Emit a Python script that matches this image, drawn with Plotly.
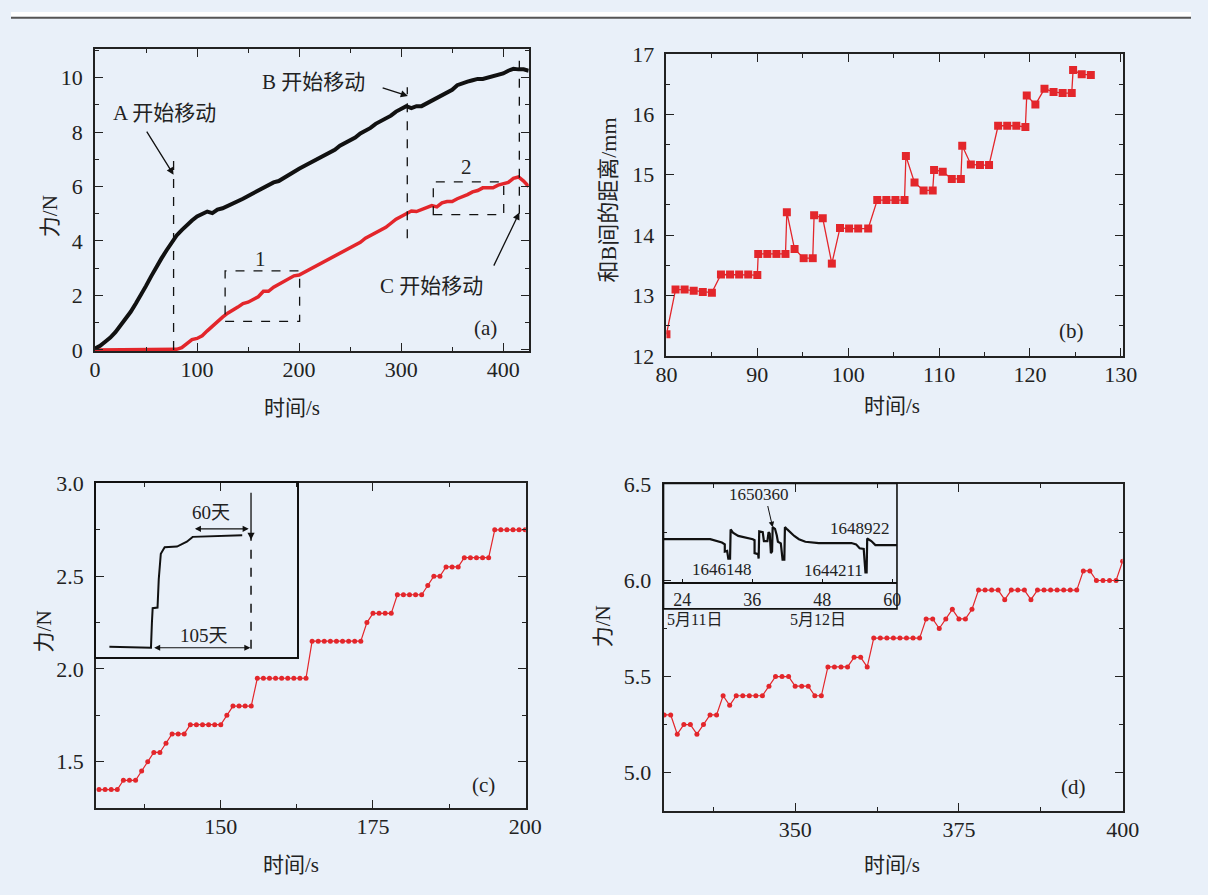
import plotly.graph_objects as go

# ---------------- data ----------------
# (a) force vs time, sampled every 5 s
t_a = [0, 5, 10, 15, 20, 25, 30, 35, 40, 45, 50, 55, 60, 65, 70, 75, 80, 85, 90, 95,
       100, 105, 110, 115, 120, 125, 130, 135, 140, 145, 150, 155, 160, 165, 170, 175, 180, 185, 190, 195,
       200, 205, 210, 215, 220, 225, 230, 235, 240, 245, 250, 255, 260, 265, 270, 275, 280, 285, 290, 295,
       300, 305, 310, 315, 320, 325, 330, 335, 340, 345, 350, 355, 360, 365, 370, 375, 380, 385, 390, 395,
       400, 405, 410, 415, 420, 425]
force_black = [0.05, 0.15, 0.3, 0.45, 0.65, 0.9, 1.1, 1.4, 1.7, 2.0, 2.35, 2.7, 3.05, 3.35, 3.65, 3.95, 4.2, 4.4, 4.6, 4.75,
               4.9, 5.0, 5.08, 5.02, 5.15, 5.2, 5.28, 5.4, 5.45, 5.55, 5.65, 5.75, 5.85, 5.95, 6.05, 6.15, 6.2, 6.32, 6.45, 6.55,
               6.65, 6.75, 6.85, 6.95, 7.02, 7.15, 7.25, 7.35, 7.5, 7.6, 7.7, 7.8, 7.95, 8.05, 8.15, 8.3, 8.4, 8.5, 8.6, 8.75,
               8.85, 8.95, 8.88, 8.95, 8.95, 9.05, 9.15, 9.28, 9.35, 9.45, 9.55, 9.72, 9.8, 9.85, 9.9, 9.95, 9.95, 10.0, 10.05, 10.1,
               10.15, 10.25, 10.32, 10.3, 10.3, 10.25]
force_red = [0.0, 0.0, 0.0, 0.0, 0.0, 0.0, 0.0, 0.0, 0.0, 0.0, 0.0, 0.0, 0.0, 0.0, 0.0, 0.0, 0.02, 0.08, 0.22, 0.38,
             0.42, 0.52, 0.7, 0.88, 1.02, 1.2, 1.35, 1.45, 1.57, 1.7, 1.75, 1.85, 1.95, 2.15, 2.15, 2.3, 2.4, 2.5, 2.6, 2.72,
             2.75, 2.85, 2.95, 3.05, 3.15, 3.22, 3.35, 3.45, 3.55, 3.65, 3.75, 3.85, 3.95, 4.1, 4.2, 4.3, 4.4, 4.5, 4.65, 4.8,
             4.9, 5.0, 5.1, 5.08, 5.15, 5.2, 5.3, 5.25, 5.4, 5.45, 5.45, 5.55, 5.62, 5.7, 5.8, 5.85, 5.95, 5.95, 5.95, 6.05,
             6.1, 6.15, 6.3, 6.35, 6.2, 6.0]
event_A, event_B, event_C = 77, 306, 415.8
box1 = (127.5, 200.5, 1.05, 2.9)
box2 = (331.5, 400.5, 4.97, 6.17)

# (b) distance vs time
t_b = [80.0, 81.0, 82.0, 83.0, 84.0, 85.0, 86.0, 87.0, 88.0, 89.0, 90.0, 90.1, 91.1, 92.1, 93.1, 93.25,
       94.1, 95.1, 96.1, 96.25, 97.2, 98.2, 99.1, 100.1, 101.1, 102.2, 103.2, 104.2, 105.2, 106.2, 106.35,
       107.3, 108.3, 109.3, 109.45, 110.4, 111.4, 112.4, 112.55, 113.5, 114.5, 115.5, 116.5, 117.5, 118.5,
       119.5, 119.65, 120.6, 121.6, 122.6, 123.6, 124.6, 124.75, 125.7, 126.7]
dist_b = [12.36, 13.10, 13.10, 13.08, 13.06, 13.05, 13.35, 13.35, 13.35, 13.35, 13.34, 13.69, 13.69, 13.69, 13.69, 14.38,
          13.77, 13.62, 13.62, 14.33, 14.28, 13.53, 14.12, 14.11, 14.11, 14.11, 14.58, 14.58, 14.58, 14.58, 15.31,
          14.87, 14.74, 14.74, 15.08, 15.05, 14.93, 14.93, 15.48, 15.17, 15.16, 15.16, 15.81, 15.81, 15.81,
          15.79, 16.31, 16.16, 16.42, 16.37, 16.35, 16.35, 16.73, 16.66, 16.65]

# (c) zoom of box 1
t_c = list(range(130, 201))
force_c = [1.35, 1.35, 1.35, 1.35, 1.40, 1.40, 1.40, 1.45, 1.50, 1.55, 1.55, 1.60, 1.65, 1.65, 1.65,
           1.70, 1.70, 1.70, 1.70, 1.70, 1.70, 1.75, 1.80, 1.80, 1.80, 1.80,
           1.95, 1.95, 1.95, 1.95, 1.95, 1.95, 1.95, 1.95, 1.95,
           2.15, 2.15, 2.15, 2.15, 2.15, 2.15, 2.15, 2.15, 2.15,
           2.25, 2.30, 2.30, 2.30, 2.30, 2.40, 2.40, 2.40, 2.40, 2.40, 2.45, 2.50, 2.50,
           2.55, 2.55, 2.55, 2.60, 2.60, 2.60, 2.60, 2.60, 2.75, 2.75, 2.75, 2.75, 2.75, 2.75]

# (d) zoom of box 2
t_d = list(range(330, 401))
force_d = [5.30, 5.30, 5.20, 5.25, 5.25, 5.20, 5.25, 5.30, 5.30, 5.40,
           5.35, 5.40, 5.40, 5.40, 5.40, 5.40, 5.45, 5.50, 5.50, 5.50,
           5.45, 5.45, 5.45, 5.40, 5.40, 5.55, 5.55, 5.55, 5.55, 5.60,
           5.60, 5.55, 5.70, 5.70, 5.70, 5.70, 5.70, 5.70, 5.70, 5.70,
           5.80, 5.80, 5.75, 5.80, 5.85, 5.80, 5.80, 5.85, 5.95, 5.95,
           5.95, 5.95, 5.90, 5.95, 5.95, 5.95, 5.90, 5.95, 5.95, 5.95,
           5.95, 5.95, 5.95, 5.95, 6.05, 6.05, 6.00, 6.00, 6.00, 6.00,
           6.10]

# inset of (c): field record (days relative to event, relative level)
inset_c_days = [-151.2, -127.6, -106.8, -105.8, -105.0, -99.8, -98.5, -96.3, -92.2, -79.0, -71.9, -68.5, -62.3, -9.4]
inset_c_level = [6.1, 6.0, 5.6, 20.0, 28.3, 28.7, 45.0, 59.6, 63.3, 63.7, 65.5, 66.5, 69.3, 70.2]

# inset of (d): field record (hours, relative level)
inset_d_hours = [20.8, 28.8, 30.8, 31.3, 31.3, 31.7, 31.9, 32.2, 32.3, 32.7, 33.6, 35.5, 36.1, 36.4, 36.4,
                 37.0, 37.1, 37.2, 37.8, 38.0, 38.6, 38.8, 39.0, 39.2, 39.4, 39.5, 39.9, 40.2, 40.4,
                 40.9, 41.2, 41.5, 41.6, 42.0, 43.2, 44.0, 45.1, 47.4, 53.0, 53.8, 54.4, 55.1, 55.4,
                 55.6, 55.7, 56.4, 57.1, 60.8]
inset_d_level = [43.6, 43.6, 40.3, 38.4, 31.2, 31.8, 24.0, 24.0, 53.5, 50.2, 46.9, 44.9, 43.6, 42.6, 29.5,
                 28.5, 24.0, 51.5, 50.8, 41.7, 41.7, 50.8, 49.2, 29.5, 31.2, 55.8, 54.1, 47.6, 41.0,
                 39.4, 23.0, 23.0, 55.8, 53.5, 46.9, 43.6, 41.0, 39.7, 39.7, 38.4, 34.4, 33.8, 9.9,
                 9.9, 44.3, 41.7, 37.7, 37.7]

for a, b in [(t_a, force_black), (t_a, force_red), (t_b, dist_b), (t_c, force_c), (t_d, force_d),
             (inset_c_days, inset_c_level), (inset_d_hours, inset_d_level)]:
    assert len(a) == len(b), (len(a), len(b))

# ---------------- styling ----------------
W, H = 1208, 895
def px(x): return x / W
def py(y): return 1 - y / H

BG = '#e9f0f9'
INK = '#222222'
RED = '#e3262b'
FONT = '"Liberation Serif", "Noto Sans CJK SC", serif'

def axis(domain, rng, dtick=None, minor=None, tickvals=None, fmt=None, anchor=None, standoff=6):
    d = dict(domain=domain, range=rng, showline=True, linewidth=1.6, linecolor=INK, mirror='ticks',
             ticks='inside', ticklen=8, tickwidth=1.4, tickcolor=INK, showgrid=False, zeroline=False,
             tickfont=dict(family=FONT, size=22, color=INK), ticklabelstandoff=standoff, anchor=anchor)
    if dtick is not None:
        d['dtick'] = dtick
        d['tick0'] = 0
    if tickvals is not None:
        d['tickvals'] = tickvals
    if fmt:
        d['tickformat'] = fmt
    if minor is not None:
        d['minor'] = dict(ticks='inside', ticklen=4, tickwidth=1.2, tickcolor=INK, dtick=minor, tick0=0, showgrid=False)
    return d

XS = -2  # x tick label standoff

fig = go.Figure()

# (a)
fig.add_trace(go.Scatter(x=t_a, y=force_red, mode='lines', line=dict(color=RED, width=3.5),
                         xaxis='x', yaxis='y', showlegend=False))
fig.add_trace(go.Scatter(x=t_a, y=force_black, mode='lines', line=dict(color='#111111', width=4),
                         xaxis='x', yaxis='y', showlegend=False))
# (b)
fig.add_trace(go.Scatter(x=t_b, y=dist_b, mode='lines+markers', line=dict(color=RED, width=1.3),
                         marker=dict(symbol='square', size=8, color=RED), xaxis='x2', yaxis='y2', showlegend=False))
# (c)
fig.add_trace(go.Scatter(x=t_c, y=force_c, mode='lines+markers', line=dict(color=RED, width=1.2),
                         marker=dict(symbol='circle', size=5, color=RED), xaxis='x3', yaxis='y3', showlegend=False))
# (d)
fig.add_trace(go.Scatter(x=t_d, y=force_d, mode='lines+markers', line=dict(color=RED, width=1.2),
                         marker=dict(symbol='circle', size=5, color=RED), xaxis='x4', yaxis='y4', showlegend=False))
# inset (c)
fig.add_trace(go.Scatter(x=inset_c_days, y=inset_c_level, mode='lines', line=dict(color='#111111', width=2),
                         xaxis='x5', yaxis='y5', showlegend=False))
fig.add_trace(go.Scatter(x=[0, 0], y=[5, 70.4], mode='lines', line=dict(color='#111111', width=1.5, dash='dash'),
                         xaxis='x5', yaxis='y5', showlegend=False))
# inset (d)
fig.add_trace(go.Scatter(x=inset_d_hours, y=inset_d_level, mode='lines', line=dict(color='#111111', width=2.2),
                         xaxis='x6', yaxis='y6', showlegend=False))

layout = dict(
    margin=dict(l=0, r=0, t=0, b=0, pad=0), autosize=True,
    paper_bgcolor=BG, plot_bgcolor='rgba(0,0,0,0)', showlegend=False,
    font=dict(family=FONT, color=INK),
    xaxis=axis([px(86), px(530)], [0, 425], dtick=100, minor=50, anchor='y', standoff=XS),
    yaxis=axis([py(349), py(38)], [-0.05, 11.05], dtick=2, minor=1, anchor='x'),
    xaxis2=axis([px(671), px(1138)], [80, 130.2], dtick=10, minor=5, anchor='y2', standoff=XS),
    yaxis2=axis([py(354), py(43)], [12, 17], dtick=1, minor=0.5, anchor='x2'),
    xaxis3=axis([px(87), px(527)], [129.5, 200.1], tickvals=[150, 175, 200], minor=12.5, anchor='y3', standoff=XS),
    yaxis3=axis([py(819), py(485)], [1.25, 3.0], dtick=0.5, minor=0.25, fmt='.1f', anchor='x3'),
    xaxis4=axis([px(668), px(1138)], [329.9, 400], tickvals=[350, 375, 400], minor=12.5, anchor='y4', standoff=XS),
    yaxis4=axis([py(822), py(486)], [4.8, 6.5], dtick=0.5, minor=0.25, fmt='.1f', anchor='x4'),
    xaxis5=dict(domain=[px(87), px(293)], range=[-165.5, 49.3], anchor='y5', showline=True, mirror=True,
                linewidth=2.2, linecolor='#111111', showticklabels=False, ticks='', showgrid=False, zeroline=False),
    yaxis5=dict(domain=[py(664), py(485)], range=[0, 100], anchor='x5', showline=True, mirror=True,
                linewidth=2.2, linecolor='#111111', showticklabels=False, ticks='', showgrid=False, zeroline=False),
    xaxis6=dict(domain=[px(668), px(907)], range=[20.8, 60.8], anchor='y6', showline=True, mirror=False,
                linewidth=1.6, linecolor='#111111', tickvals=[24, 36, 48, 60], ticks='inside', ticklen=4,
                tickcolor='#111111', tickfont=dict(family=FONT, size=18, color=INK), ticklabelstandoff=0,
                showgrid=False, zeroline=False),
    yaxis6=dict(domain=[py(586.7), py(485)], range=[0, 100], anchor='x6', showline=False,
                showticklabels=False, ticks='', showgrid=False, zeroline=False),
)
fig.update_layout(**layout)

shapes = []
# top rule of the page
shapes.append(dict(type='rect', xref='paper', yref='paper', x0=0, x1=1, y0=py(5), y1=1,
                   fillcolor='white', line=dict(width=0), layer='below'))
shapes.append(dict(type='line', xref='paper', yref='paper', x0=0, x1=1, y0=py(6), y1=py(6),
                   line=dict(color='#555555', width=2)))
# event lines in (a)
dash = dict(color='#111111', width=1.3, dash='dash')
shapes.append(dict(type='line', xref='x', yref='y', x0=event_A, x1=event_A, y0=0, y1=7.0, line=dash))
shapes.append(dict(type='line', xref='x', yref='y', x0=event_B, x1=event_B, y0=4.1, y1=9.64, line=dash))
shapes.append(dict(type='line', xref='x', yref='y', x0=event_C, x1=event_C, y0=5.0, y1=10.75, line=dash))
for (x0, x1, y0, y1) in (box1, box2):
    shapes.append(dict(type='rect', xref='x', yref='y', x0=x0, x1=x1, y0=y0, y1=y1, line=dash))
# inset (d) frame
shapes.append(dict(type='rect', xref='paper', yref='paper', x0=px(668), x1=px(907), y0=py(614), y1=py(485),
                   line=dict(color='#111111', width=1.6)))
fig.update_layout(shapes=shapes)

ann = []
def label(text, x, y, size=21, angle=0):
    ann.append(dict(xref='paper', yref='paper', x=px(x), y=py(y), text=text, showarrow=False,
                    font=dict(family=FONT, size=size, color=INK), textangle=angle,
                    xanchor='center', yanchor='middle'))

# axis titles
label('时间/s', 288, 407)
label('力/N', 40, 210, angle=-90)
label('时间/s', 902, 405)
label('和B间的距离/mm', 612, 193, size=22, angle=-90)
label('时间/s', 287, 878)
label('力/N', 34, 637, angle=-90)
label('时间/s', 902, 878)
label('力/N', 606, 632, angle=-90)
# panel tags
label('(a)', 486, 325)
label('(b)', 1086, 328)
label('(c)', 484, 795)
label('(d)', 1088, 797)
# dates under inset (d)
label('5月11日', 700, 625, size=16)
label('5月12日', 826, 625, size=16)

def data_text(text, x, y, xr, yr, size=21):
    ann.append(dict(xref=xr, yref=yr, x=x, y=y, text=text, showarrow=False,
                    font=dict(family=FONT, size=size, color=INK), xanchor='center', yanchor='middle'))

def arrow(x, y, ax, ay, xr, yr, both=False, width=1.3):
    ann.append(dict(xref=xr, yref=yr, axref=xr, ayref=yr, x=x, y=y, ax=ax, ay=ay, text='',
                    showarrow=True, arrowhead=2, arrowsize=1.1, arrowwidth=width, arrowcolor='#111111',
                    arrowside='end+start' if both else 'end'))

# (a) annotations
data_text('A 开始移动', 68, 8.68, 'x', 'y')
arrow(77, 6.43, 49.8, 8.07, 'x', 'y')
data_text('B 开始移动', 214.4, 9.82, 'x', 'y')
arrow(306.6, 9.32, 280.4, 9.64, 'x', 'y')
data_text('C 开始移动', 329.7, 2.36, 'x', 'y')
arrow(415.8, 5.04, 390.1, 3.04, 'x', 'y')
data_text('1', 162, 3.32, 'x', 'y')
data_text('2', 363.6, 6.71, 'x', 'y')

# inset (c) annotations
data_text('60天', -42.4, 83.2, 'x5', 'y5', size=19)
arrow(-2.5, 73.9, -61.5, 73.9, 'x5', 'y5', both=True, width=1.1)
data_text('105天', -49.7, 12.5, 'x5', 'y5', size=19)
arrow(-0.7, 5.6, -105, 5.6, 'x5', 'y5', both=True, width=1.1)
arrow(0, 67.6, 0, 95.5, 'x5', 'y5', width=1.3)

# inset (d) annotations
data_text('1650360', 37.1, 88.5, 'x6', 'y6', size=17)
arrow(39.5, 55.8, 38.6, 78.7, 'x6', 'y6', width=1.0)
data_text('1646148', 30.8, 13.2, 'x6', 'y6', size=17)
data_text('1644211', 49.9, 11.5, 'x6', 'y6', size=17)
data_text('1648922', 54.4, 54.1, 'x6', 'y6', size=17)

fig.update_layout(annotations=ann)
fig.write_html('out.html',
               config={'displayModeBar': False},
               default_width='1208px',
               default_height='895px; position:absolute; left:0px; top:0px; margin:0px',
               post_script="document.body.style.margin='0px';document.body.style.overflow='hidden';")
